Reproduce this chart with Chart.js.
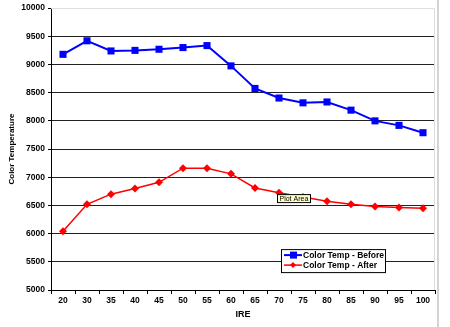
<!DOCTYPE html>
<html>
<head>
<meta charset="utf-8">
<script src="https://cdn.jsdelivr.net/npm/chart.js@4/dist/chart.umd.min.js"></script>
<style>
  html, body { margin: 0; padding: 0; background: #fff; }
  #wrap { position: relative; width: 450px; height: 327px; }
</style>
</head>
<body>
<div id="wrap"><canvas id="c" width="450" height="327"></canvas></div>
<script>
const ireLevels = ['20','30','35','40','45','50','55','60','65','70','75','80','85','90','95','100'];
const tempBefore = [9180, 9420, 9240, 9250, 9270, 9300, 9335, 8975, 8575, 8405, 8320, 8335, 8190, 8000, 7920, 7790];
const tempAfter  = [6040, 6520, 6700, 6800, 6910, 7160, 7160, 7060, 6810, 6725, 6650, 6575, 6520, 6480, 6465, 6450];
const seriesNames = ['Color Temp - Before', 'Color Temp - After'];
const yMin = 5000, yMax = 10000, yStep = 500;

const FONT = '"Liberation Sans", Arial, sans-serif';

const decor = {
  id: 'decor',
  beforeDatasetsDraw(chart) {
    const ctx = chart.ctx, a = chart.chartArea;
    ctx.save();
    ctx.strokeStyle = '#dcdcdc';
    ctx.lineWidth = 1;
    ctx.beginPath();
    ctx.moveTo(a.left, a.top + 0.5);
    ctx.lineTo(a.right - 0.5, a.top + 0.5);
    ctx.lineTo(a.right - 0.5, a.bottom);
    ctx.stroke();
    ctx.restore();
  },
  afterDraw(chart) {
    const ctx = chart.ctx, a = chart.chartArea;
    ctx.save();
    ctx.fillStyle = '#d4d4d4';
    ctx.fillRect(a.right + 2, 0, 2, chart.height);

    // Plot Area tooltip
    const tx = a.left + 226, ty = a.top + 186;
    ctx.fillStyle = '#ffffc8';
    ctx.fillRect(tx, ty, 33, 8);
    ctx.strokeStyle = '#000';
    ctx.lineWidth = 1;
    ctx.strokeRect(tx + 0.5, ty + 0.5, 33, 8);
    ctx.fillStyle = '#000';
    ctx.font = '7px ' + FONT;
    ctx.textAlign = 'left';
    ctx.textBaseline = 'middle';
    ctx.fillText('Plot Area', tx + 2.5, ty + 4.8);

    // Legend
    const lx = a.left + 230, ly = a.top + 241, lw = 104, lh = 23;
    ctx.fillStyle = '#fff';
    ctx.fillRect(lx, ly, lw, lh);
    ctx.strokeStyle = '#000';
    ctx.strokeRect(lx + 0.5, ly + 0.5, lw, lh);
    const items = [
      { name: seriesNames[0], color: '#0000ff', style: 'rect', y: ly + 6 },
      { name: seriesNames[1], color: '#ff0000', style: 'rectRot', y: ly + 16 }
    ];
    items.forEach(it => {
      ctx.strokeStyle = it.color;
      ctx.lineWidth = it.style === 'rect' ? 2 : 1.5;
      ctx.beginPath();
      ctx.moveTo(lx + 3, it.y);
      ctx.lineTo(lx + 21, it.y);
      ctx.stroke();
      ctx.fillStyle = it.color;
      if (it.style === 'rect') {
        ctx.fillRect(lx + 9, it.y - 3.5, 7, 7);
      } else {
        ctx.beginPath();
        ctx.moveTo(lx + 12, it.y - 3);
        ctx.lineTo(lx + 15, it.y);
        ctx.lineTo(lx + 12, it.y + 3);
        ctx.lineTo(lx + 9, it.y);
        ctx.closePath();
        ctx.fill();
      }
      ctx.fillStyle = '#000';
      ctx.font = 'bold 8.5px ' + FONT;
      ctx.textAlign = 'left';
      ctx.textBaseline = 'middle';
      ctx.fillText(it.name, lx + 22, it.y + 0.5);
    });
    ctx.restore();
  }
};

new Chart(document.getElementById('c'), {
  type: 'line',
  data: {
    labels: ireLevels,
    datasets: [
      {
        label: seriesNames[0],
        data: tempBefore,
        borderColor: '#0000ff',
        backgroundColor: '#0000ff',
        borderWidth: 2,
        pointStyle: 'rect',
        pointRadius: 5,
        pointBorderWidth: 0,
        tension: 0
      },
      {
        label: seriesNames[1],
        data: tempAfter,
        borderColor: '#ff0000',
        backgroundColor: '#ff0000',
        borderWidth: 1.5,
        pointStyle: 'rectRot',
        pointRadius: 4,
        pointBorderWidth: 0,
        tension: 0
      }
    ]
  },
  options: {
    responsive: false,
    animation: false,
    devicePixelRatio: 1,
    layout: { padding: { top: 8, right: 15, left: 0, bottom: 0 } },
    plugins: {
      legend: { display: false },
      tooltip: { enabled: false }
    },
    scales: {
      x: {
        type: 'category',
        offset: true,
        afterFit(s) { s.height = 37; },
        grid: {
          offset: true,
          drawOnChartArea: false,
          drawTicks: true,
          tickLength: 4,
          color: '#000'
        },
        border: { color: '#000', width: 1 },
        ticks: {
          color: '#000',
          font: { family: FONT, size: 8.5, weight: 'bold' },
          padding: 2,
          maxRotation: 0,
          autoSkip: false
        },
        title: {
          display: true,
          text: 'IRE',
          color: '#000',
          font: { family: FONT, size: 9, weight: 'bold' },
          padding: { top: 0, bottom: 7 }
        }
      },
      y: {
        min: yMin,
        max: yMax,
        afterFit(s) { s.width = 51; },
        grid: {
          color: (c) => (c.tick && c.tick.value === yMax) ? 'rgba(0,0,0,0)' : '#222',
          tickColor: '#000',
          lineWidth: 1,
          tickLength: 3
        },
        border: { color: '#000', width: 1 },
        ticks: {
          stepSize: yStep,
          color: '#000',
          font: { family: FONT, size: 8.5, weight: 'bold' },
          padding: 3,
          callback: (v) => String(v)
        },
        title: {
          display: true,
          text: 'Color Temperature',
          color: '#000',
          font: { family: FONT, size: 8, weight: 'bold' },
          padding: { top: 7, bottom: 0 }
        }
      }
    }
  },
  plugins: [decor]
});
</script>
</body>
</html>
